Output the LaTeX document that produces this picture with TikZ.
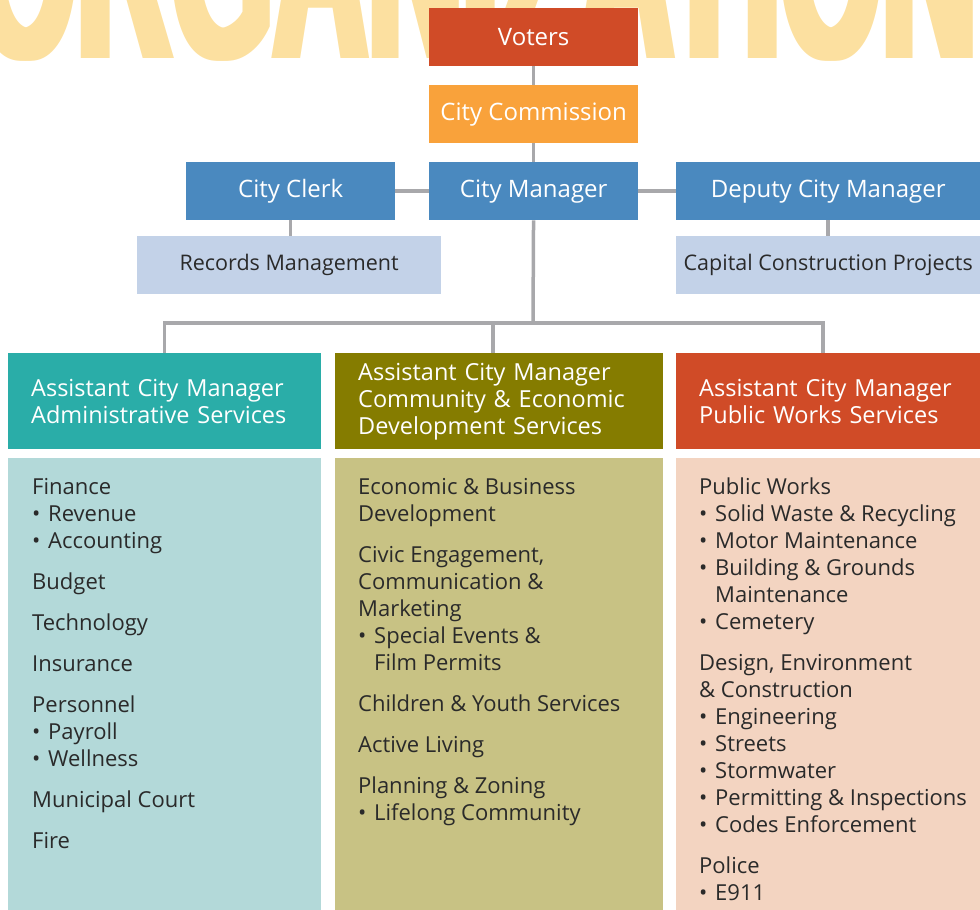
\documentclass[tikz,border=0pt]{standalone}
\usepackage{fontspec}
\setmainfont{Open Sans}
\newfontfamily\bannerfont{Liberation Sans}
\usepackage{xcolor}
\definecolor{brick}{HTML}{D04B27}
\definecolor{amber}{HTML}{F9A23B}
\definecolor{steel}{HTML}{4A89BF}
\definecolor{mist}{HTML}{C3D2E8}
\definecolor{lagoon}{HTML}{2AADA8}
\definecolor{moss}{HTML}{857C00}
\definecolor{seafoam}{HTML}{B3D9D9}
\definecolor{sand}{HTML}{C8C284}
\definecolor{blush}{HTML}{F3D4C1}
\definecolor{wire}{HTML}{A8A8AB}
\definecolor{wheat}{HTML}{FCE0A0}
\definecolor{ink}{HTML}{2A2A2A}
\usepackage{tikz}

\newcommand\bul{\makebox[16pt][l]{\textbullet}}

\begin{document}
\begin{tikzpicture}[x=1pt, y=-1pt,
  box/.style={anchor=north west, inner sep=0, minimum height=58pt, text=white,
    font=\fontsize{24}{28}\selectfont},
  sub/.style={anchor=north west, inner sep=0, minimum height=58pt, fill=mist, text=ink,
    font=\fontsize{21.5}{25}\selectfont},
  head/.style={anchor=north west, inner xsep=23pt, inner ysep=0, minimum height=96pt,
    align=left, text=white, font=\fontsize{23.5}{27}\selectfont},
  list/.style={anchor=north west, inner sep=0, minimum height=452pt},
  items/.style={anchor=base west, inner sep=0, text=ink, font=\fontsize{22}{27}\selectfont},
  banner/.style={anchor=base west, inner sep=0, text=wheat,
    font=\bannerfont\bfseries\fontsize{131}{131}\selectfont},
  link/.style={draw=wire, line width=3.5pt}]
  \useasboundingbox (0,0) rectangle (980,910);

  % Banner behind the top
  \begin{scope}
    \clip (0,0) rectangle (980,910);
    \foreach \dx [count=\i] in {-5,0,5}
      \node[banner] (banner\i) at (-25+\dx,58) {\scalebox{1}[2.2]{ORGANIZATION}};
  \end{scope}

  % Voters and City Commission
  \node[box, fill=brick, minimum width=209pt] (voters) at (429,8) {Voters};
  \node[box, fill=amber, minimum width=209pt] (commission) at (429,85) {City Commission};

  % City Manager row
  \node[box, fill=steel, minimum width=209pt] (clerk) at (186,162) {City Clerk};
  \node[box, fill=steel, minimum width=209pt] (manager) at (429,162) {City Manager};
  \node[box, fill=steel, minimum width=304pt] (deputy) at (676,162) {Deputy City Manager};
  \node[sub, minimum width=304pt] (records) at (137,236) {Records Management};
  \node[sub, minimum width=304pt] (capital) at (676,236) {Capital Construction Projects};

  % Assistant City Managers
  \node[head, fill=lagoon, text width=267pt] (admin) at (8,353)
    {Assistant City Manager\\Administrative Services};
  \node[head, fill=moss, text width=282pt] (community) at (335,353)
    {Assistant City Manager\\Community \& Economic\\Development Services};
  \node[head, fill=brick, text width=258pt] (public) at (676,353)
    {Assistant City Manager\\Public Works Services};

  % Departments
  \node[list, fill=seafoam, minimum width=313pt] (adminlist) at (8,458) {};
  \node[list, fill=sand, minimum width=328pt] (communitylist) at (335,458) {};
  \node[list, fill=blush, minimum width=304pt] (publiclist) at (676,458) {};

  \node[items] (admintext) at ([shift={(24,36)}]adminlist.north west) {\parbox[t]{280pt}{\raggedright
    Finance\\ \bul Revenue\\ \bul Accounting\\[14pt]
    Budget\\[14pt]
    Technology\\[14pt]
    Insurance\\[14pt]
    Personnel\\ \bul Payroll\\ \bul Wellness\\[14pt]
    Municipal Court\\[14pt]
    Fire}};
  \node[items] (communitytext) at ([shift={(23,36)}]communitylist.north west) {\parbox[t]{300pt}{\raggedright
    Economic \& Business\\ Development\\[14pt]
    Civic Engagement,\\ Communication \&\\ Marketing\\
    \bul Special Events \&\\ \hspace*{16pt}Film Permits\\[14pt]
    Children \& Youth Services\\[14pt]
    Active Living\\[14pt]
    Planning \& Zoning\\ \bul Lifelong Community}};
  \node[items] (publictext) at ([shift={(23,36)}]publiclist.north west) {\parbox[t]{280pt}{\raggedright
    Public Works\\ \bul Solid Waste \& Recycling\\ \bul Motor Maintenance\\
    \bul Building \& Grounds\\ \hspace*{16pt}Maintenance\\ \bul Cemetery\\[14pt]
    Design, Environment\\ \& Construction\\ \bul Engineering\\ \bul Streets\\
    \bul Stormwater\\ \bul Permitting \& Inspections\\ \bul Codes Enforcement\\[14pt]
    Police\\ \bul E911}};

  % Connectors
  \draw[link] (voters) -- (commission);
  \draw[link] (commission) -- (manager);
  \draw[link] (clerk) -- (manager);
  \draw[link] (manager) -- (deputy);
  \draw[link] (clerk) -- (clerk |- records.north);
  \draw[link] (deputy) -- (capital);
  \coordinate (bus) at (533,323);
  \draw[link] (manager) -- (bus);
  \draw[link] (admin.north) |- (bus) -| ([xshift=-5pt]public.north);
  \draw[link] ([xshift=-6pt]community.north) -- ([xshift=-6pt]community.north |- bus);
\end{tikzpicture}
\end{document}
